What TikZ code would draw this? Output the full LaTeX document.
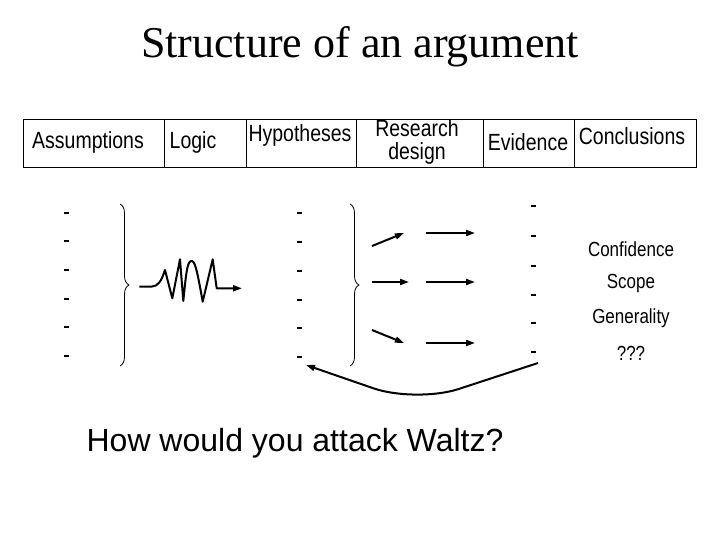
\documentclass[tikz,border=0pt]{standalone}
\usepackage{graphicx}
\usepackage{fontspec}
\setmainfont{Liberation Serif}
\newfontfamily\arial{Liberation Sans}
\usetikzlibrary{arrows.meta,decorations.pathreplacing}
\newcommand{\tallstr}[1]{\scalebox{1}[1.2]{#1}}
\begin{document}
\begin{tikzpicture}[x=1pt,y=-1pt,
  hdr/.style={font=\arial\fontsize{19.5}{22}\selectfont,inner sep=0pt},
  rt/.style={font=\arial\fontsize{17}{20}\selectfont,inner sep=0pt},
  dsh/.style={line width=1.3pt},
  arr/.style={line width=2pt,-{Triangle[length=9pt,width=6pt]}},
  brc/.style={line width=0.8pt,decorate,decoration={brace,amplitude=9pt}},
  tbl/.style={line width=1pt}]
\useasboundingbox (0,0) rectangle (720,540);
% title
\node[font=\fontsize{44}{48}\selectfont,inner sep=0pt] (title) at (360,47) {Structure of an argument};
% table
\draw[tbl] (23,120) rectangle (696,168);
\foreach \x in {164,246,356,483,574} \draw[tbl] (\x,120) -- (\x,168);
\node[hdr] (h1) at (88,142) {\tallstr{Assumptions}};
\node[hdr] (h2) at (193,142) {\tallstr{Logic}};
\node[hdr] (h3) at (300,135) {\tallstr{Hypotheses}};
\node[hdr,anchor=base] (h4a) at (417,137) {\tallstr{Research}};
\node[hdr,anchor=base] (h4b) at (417,160) {\tallstr{design}};
\node[hdr] (h5) at (528,142) {\tallstr{Evidence}};
\node[hdr] (h6) at (632,136) {\tallstr{Conclusions}};
% dash columns
\foreach \y in {213,241,270,299,327,356} \draw[dsh] (63.5,\y) -- (68.5,\y);
\foreach \y in {213,242,271,300,328,357} \draw[dsh] (297,\y) -- (302,\y);
\foreach \y in {206,236,266,295,323,352} \draw[dsh] (531,\y) -- (536,\y);
% braces
\draw[brc] (120,204) -- (120,366);
\draw[brc] (350,204) -- (350,366);
% zigzag
\coordinate (zs) at (139.3,286.7);
\coordinate (ze) at (242,288.3);
\draw[line width=2pt,-{Triangle[length=9pt,width=6pt]},line join=round]
  (zs) -- (152,286.5) .. controls (158,286) and (161,282) .. (165,270)
  -- (172.3,298.3) -- (180,259.3) -- (183.3,301)
  .. controls (186,275) and (187,262) .. (191,261) .. controls (195,260) and (197,270) .. (202.7,301.7)
  -- (212.7,259.3) -- (216.7,288.3) -- (ze);
% research design arrows
\coordinate (a1s) at (372,246); \coordinate (a1e) at (404,233);
\coordinate (a2s) at (426,233); \coordinate (a2e) at (475,233);
\coordinate (a3s) at (372,282); \coordinate (a3e) at (409,282);
\coordinate (a4s) at (426,282); \coordinate (a4e) at (475,282);
\coordinate (a5s) at (372,330); \coordinate (a5e) at (404,343);
\coordinate (a6s) at (426,343); \coordinate (a6e) at (475,343);
\foreach \i in {1,...,6} \draw[arr] (a\i s) -- (a\i e);
% conclusions texts
\node[rt] (c1) at (631,249) {\tallstr{Confidence}};
\node[rt] (c2) at (631,283) {\tallstr{Scope}};
\node[rt] (c3) at (631,318) {\tallstr{Generality}};
\node[rt] (c4) at (631,353) {\tallstr{???}};
% return arrow
\coordinate (rs) at (538,363);
\coordinate (re) at (306,365);
\draw[line width=2pt,-{Triangle[length=9pt,width=6pt]},rounded corners=45pt] (rs) -- (416,403) -- (re);
% question
\node[font=\arial\fontsize{32}{36}\selectfont,inner sep=0pt] (q) at (295,443) {How would you attack Waltz?};
\end{tikzpicture}
\end{document}
